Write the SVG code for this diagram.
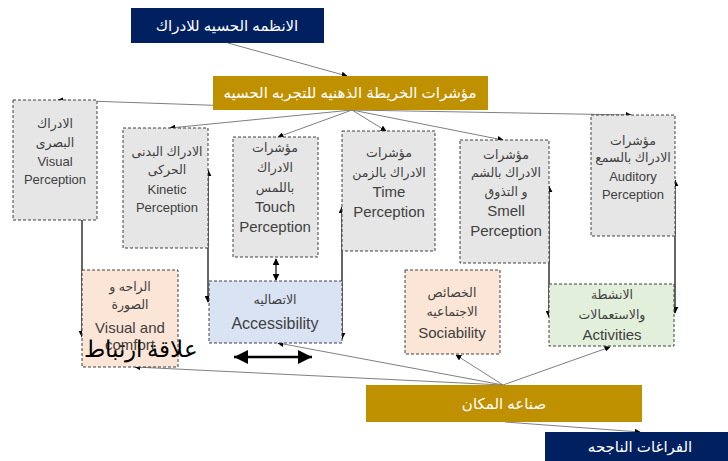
<svg xmlns="http://www.w3.org/2000/svg" width="728" height="461" viewBox="0 0 728 461">
<defs>
<marker id="ah" viewBox="0 0 10 10" refX="9" refY="5" markerWidth="6" markerHeight="6" markerUnits="userSpaceOnUse" orient="auto-start-reverse"><path d="M0,0 L10,5 L0,10 z" fill="#000"/></marker>
<marker id="ah2" viewBox="0 0 10 10" refX="9" refY="5" markerWidth="7" markerHeight="7" markerUnits="userSpaceOnUse" orient="auto-start-reverse"><path d="M0,0 L10,5 L0,10 z" fill="#000"/></marker>
<marker id="big" viewBox="0 0 10 10" refX="10" refY="5" markerWidth="14" markerHeight="14" markerUnits="userSpaceOnUse" orient="auto-start-reverse"><path d="M0,0 L10,5 L0,10 z" fill="#000"/></marker>
</defs>
<style>
.navy{fill:#002060}
.gold{fill:#bf9000}
.wt{fill:#fff;font-family:"Liberation Sans","DejaVu Sans",sans-serif;font-size:15px;text-anchor:middle}
.box{stroke:#404040;stroke-width:1;stroke-dasharray:3,2}
.gray{fill:#e7e6e6}
.peach{fill:#fbe5d6}
.blue{fill:#dae3f3}
.green{fill:#e2efda}
.t{fill:#404040;font-family:"Liberation Sans","DejaVu Sans",sans-serif;text-anchor:middle}
.ar{font-size:12.5px}
.en{font-size:13px}
.en2{font-size:15px}
.thin{stroke:#7f7f7f;stroke-width:1;fill:none;marker-end:url(#ah)}
.vert{stroke:#404040;stroke-width:1.6;fill:none;marker-start:url(#ah2);marker-end:url(#ah2)}
</style>
<g id="connectors">
<line class="thin" x1="228" y1="43" x2="347" y2="76"/>
<line class="thin" x1="352" y1="110" x2="58" y2="100"/>
<line class="thin" x1="352" y1="110" x2="170" y2="128"/>
<line class="thin" x1="352" y1="110" x2="278" y2="137"/>
<line class="thin" x1="352" y1="110" x2="386" y2="131"/>
<line class="thin" x1="352" y1="110" x2="503" y2="140"/>
<line class="thin" x1="352" y1="110" x2="631" y2="115"/>
<line class="thin" x1="503" y1="385" x2="135" y2="367"/>
<line class="thin" x1="503" y1="385" x2="278" y2="343"/>
<line class="thin" x1="503" y1="385" x2="456" y2="355"/>
<line class="thin" x1="503" y1="385" x2="610" y2="347"/>
<line class="thin" x1="505" y1="422" x2="640" y2="432"/>
<line class="vert" x1="82" y1="203" x2="82" y2="337"/>
<line class="vert" x1="208" y1="170" x2="208" y2="302"/>
<line class="vert" x1="276" y1="259" x2="276" y2="280"/>
<line class="vert" x1="342" y1="207" x2="342" y2="339"/>
<line class="vert" x1="549" y1="186" x2="549" y2="317"/>
<line class="vert" x1="675" y1="180" x2="675" y2="313"/>
<line x1="234" y1="357" x2="312" y2="357" stroke="#000" stroke-width="2.5" marker-start="url(#big)" marker-end="url(#big)"/>
</g>
<g id="n-sensory">
<rect class="navy" x="131" y="8" width="193" height="35"/>
<text class="wt" x="227" y="31">الانظمه الحسيه للادراك</text>
</g>
<g id="n-mental">
<rect class="gold" x="213" y="76" width="275" height="34"/>
<text class="wt" x="350" y="98">مؤشرات الخريطة الذهنيه للتجربه الحسيه</text>
</g>
<g id="n-visual">
<rect class="box gray" x="13" y="100" width="84" height="120"/>
<text class="t ar" x="55" y="128">الادراك</text>
<text class="t ar" x="55" y="147">البصرى</text>
<text class="t en" x="55" y="166">Visual</text>
<text class="t en" x="55" y="184">Perception</text>
</g>
<g id="n-kinetic">
<rect class="box gray" x="123" y="128" width="85" height="120"/>
<text class="t ar" x="167" y="156">الادراك البدنى</text>
<text class="t ar" x="167" y="174">الحركى</text>
<text class="t en" x="167" y="194">Kinetic</text>
<text class="t en" x="167" y="212">Perception</text>
</g>
<g id="n-touch">
<rect class="box gray" x="233" y="137" width="85" height="120"/>
<text class="t ar" x="275" y="152">مؤشرات</text>
<text class="t ar" x="275" y="172">الادراك</text>
<text class="t ar" x="275" y="192">باللمس</text>
<text class="t en2" x="275" y="212">Touch</text>
<text class="t en2" x="275" y="232">Perception</text>
</g>
<g id="n-time">
<rect class="box gray" x="342" y="131" width="93" height="120"/>
<text class="t ar" x="389" y="157">مؤشرات</text>
<text class="t ar" x="389" y="177">الادراك بالزمن</text>
<text class="t en2" x="389" y="197">Time</text>
<text class="t en2" x="389" y="217">Perception</text>
</g>
<g id="n-smell">
<rect class="box gray" x="460" y="140" width="89" height="123"/>
<text class="t ar" x="506" y="159">مؤشرات</text>
<text class="t ar" x="506" y="177">الادراك بالشم</text>
<text class="t ar" x="506" y="196">و التذوق</text>
<text class="t en2" x="506" y="216">Smell</text>
<text class="t en2" x="506" y="236">Perception</text>
</g>
<g id="n-auditory">
<rect class="box gray" x="591" y="115" width="84" height="121"/>
<text class="t ar" x="633" y="145">مؤشرات</text>
<text class="t ar" x="633" y="162">الادراك بالسمع</text>
<text class="t en" x="633" y="181">Auditory</text>
<text class="t en" x="633" y="199">Perception</text>
</g>
<g id="n-comfort">
<rect class="box peach" x="82" y="270" width="96" height="97"/>
<text class="t ar" x="130" y="291">الراحه و</text>
<text class="t ar" x="130" y="309">الصورة</text>
<text class="t en2" x="130" y="333">Visual and</text>
<text class="t en2" x="130" y="350">comfort</text>
</g>
<g id="n-access">
<rect class="box blue" x="209" y="281" width="133" height="62"/>
<text class="t ar" x="275" y="304">الاتصاليه</text>
<text class="t en2" x="275" y="329" style="font-size:16px">Accessibility</text>
</g>
<g id="n-social">
<rect class="box peach" x="405" y="270" width="95" height="84"/>
<text class="t ar" x="452" y="297">الخصائص</text>
<text class="t ar" x="452" y="316">الاجتماعيه</text>
<text class="t en2" x="452" y="338">Sociability</text>
</g>
<g id="n-activities">
<rect class="box green" x="549" y="284" width="125" height="62"/>
<text class="t ar" x="612" y="299">الانشطة</text>
<text class="t ar" x="612" y="319">والاستعمالات</text>
<text class="t en2" x="612" y="340">Activities</text>
</g>
<g id="n-placemaking">
<rect class="gold" x="366" y="385" width="276" height="37"/>
<text class="wt" x="504" y="409">صناعه المكان</text>
</g>
<g id="n-success">
<rect class="navy" x="545" y="432" width="183" height="29"/>
<text class="wt" x="640" y="452">الفراغات الناجحه</text>
</g>
<g id="label-relation">
<text x="141" y="357" style="font-family:'Liberation Serif','DejaVu Serif',serif;font-size:23px;fill:#000;text-anchor:middle">علاقة ارتباط</text>
</g>
</svg>
